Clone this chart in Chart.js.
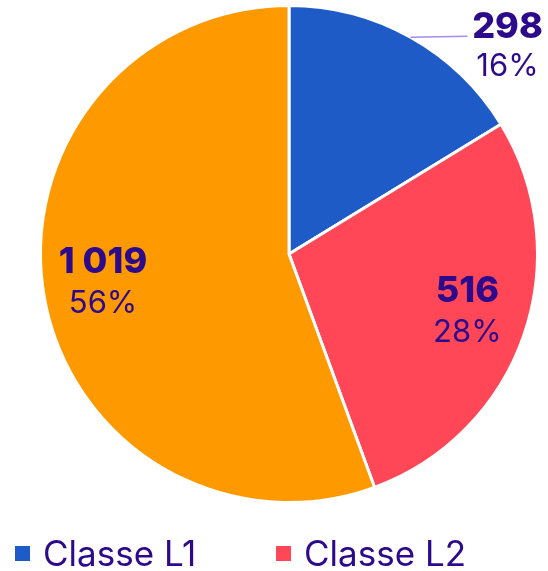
<!DOCTYPE html>
<html>
<head>
<meta charset="utf-8">
<script src="https://cdn.jsdelivr.net/npm/chart.js@4.4.1/dist/chart.umd.min.js"></script>
<style>
  html, body { margin: 0; padding: 0; background: #fff; overflow: hidden; }
  #wrap { position: relative; width: 548px; height: 571px; }
  canvas { display: block; }
</style>
</head>
<body>
<div id="wrap"><canvas id="pie-chart" width="548" height="571"></canvas></div>
<script>
    "use strict";

    // Data
    var categories = ["Classe L1", "Classe L2", "Classe L3"];
    var values = [298, 516, 1019];
    var colors = ["#1f5bc6", "#ff4757", "#ff9900"];

    var textColor = "#2d0a8c";
    var fontFamily = "Inter, 'Noto Sans', sans-serif";

    function formatNumber(n) {
        return String(n).replace(/\B(?=(\d{3})+(?!\d))/g, " ");
    }

    // Value + percent labels on the slices
    var sliceLabels = {
        id: "sliceLabels",
        afterDatasetsDraw: function (chart) {
            var ctx = chart.ctx;
            var meta = chart.getDatasetMeta(0);
            var data = chart.data.datasets[0].data;
            var total = data.reduce(function (a, b) { return a + b; }, 0);
            ctx.save();
            ctx.fillStyle = textColor;
            ctx.textAlign = "center";
            ctx.textBaseline = "alphabetic";
            meta.data.forEach(function (arc, i) {
                var p = arc.getProps(["x", "y", "startAngle", "endAngle", "outerRadius"], true);
                var mid = (p.startAngle + p.endAngle) / 2;
                var share = data[i] / total;
                var pct = Math.round(share * 100) + "%";
                var cx, cy, gap;
                if (share < 0.2) {
                    // outside with a connector line
                    var ex = p.x + Math.cos(mid) * p.outerRadius;
                    var ey = p.y + Math.sin(mid) * p.outerRadius;
                    ctx.strokeStyle = "#a58cf2";
                    ctx.lineWidth = 1.5;
                    ctx.beginPath();
                    ctx.moveTo(ex, ey);
                    ctx.lineTo(ex + 57, ey - 1);
                    ctx.stroke();
                    cx = ex + 97;
                    cy = ey + 1;
                    gap = 38;
                } else {
                    var r = p.outerRadius * 0.76;
                    cx = p.x + Math.cos(mid) * r;
                    cy = p.y + Math.sin(mid) * r - 14;
                    gap = 40;
                }
                ctx.font = "800 36px " + fontFamily;
                ctx.fillText(formatNumber(data[i]), cx, cy);
                ctx.font = "400 31px " + fontFamily;
                ctx.fillText(pct, cx, cy + gap);
            });
            ctx.restore();
        }
    };

    // Legend drawn under the pie
    var bottomLegend = {
        id: "bottomLegend",
        afterDraw: function (chart) {
            var ctx = chart.ctx;
            ctx.save();
            ctx.textAlign = "left";
            ctx.textBaseline = "alphabetic";
            ctx.font = "400 35px " + fontFamily;
            categories.forEach(function (label, i) {
                var x = 15 + (i % 2) * 261;
                var y = 566 + Math.floor(i / 2) * 50;
                ctx.fillStyle = colors[i];
                ctx.fillRect(x, y - 20, 15, 15);
                ctx.fillStyle = textColor;
                ctx.fillText(label, x + 28, y);
            });
            ctx.restore();
        }
    };

    var ctx1 = document.getElementById("pie-chart").getContext("2d");
    var myChart1 = new Chart(ctx1, {
        type: "pie",
        data: {
            labels: categories,
            datasets: [{
                data: values,
                backgroundColor: colors,
                borderColor: "#ffffff",
                borderWidth: 3
            }]
        },
        options: {
            responsive: false,
            animation: false,
            layout: {
                padding: { left: 30, top: 4, right: 0, bottom: 67 }
            },
            plugins: {
                legend: { display: false },
                tooltip: { enabled: false }
            }
        },
        plugins: [sliceLabels, bottomLegend]
    });
</script>
</body>
</html>
